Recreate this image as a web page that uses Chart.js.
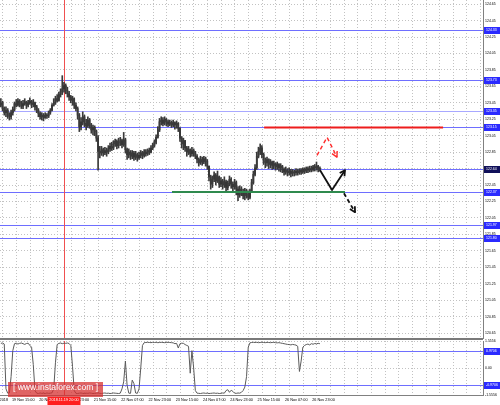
<!DOCTYPE html>
<html><head><meta charset="utf-8">
<script src="https://cdn.jsdelivr.net/npm/chart.js@4.4.1/dist/chart.umd.min.js"></script>
<style>
html,body{margin:0;padding:0;background:#fff;overflow:hidden;}
#wrap{position:relative;width:500px;height:405px;overflow:hidden;background:#fff;}
#c1{position:absolute;left:0;top:0;}
#c2{position:absolute;left:0;top:334px;}
#wm{position:absolute;left:8px;top:382px;width:95px;height:15px;line-height:15px;background:rgba(214,48,48,0.75);color:#fff;font:8.5px "Liberation Sans",Arial,sans-serif;text-align:center;white-space:nowrap;}
</style></head><body>
<div id="wrap">
<canvas id="c1" width="500" height="340"></canvas>
<canvas id="c2" width="500" height="71"></canvas>
<div id="wm">[ www.instaforex.com ]</div>
</div>
<script>
// ---------- DATA ----------
const priceTicks = [124.65,124.45,124.25,124.05,123.85,123.65,123.45,123.25,123.05,122.85,122.65,122.45,122.25,122.05,121.85,121.65,121.45,121.25,121.05,120.85,120.65];
const levelPrices = [124.33,123.73,123.35,123.15,122.64,122.37,121.97,121.80];
const oscTicks = [1.5556, 0, -1.5556];
const oscLevels = [0.9706, -0.9706];
const timeLabels = ["19 Nov 2018","19 Nov 15:00","20 Nov 07:00","20 Nov 23:00","21 Nov 15:00","22 Nov 07:00","22 Nov 23:00","23 Nov 15:00","24 Nov 07:00","24 Nov 23:00","25 Nov 15:00","26 Nov 07:00","26 Nov 23:00"];
const cursorLabel = "2018.11.19 20:00";
const cursorBar = 37;

const firstOpen = 123.42;
const closes = [
123.45,123.38,123.33,123.36,123.30,123.28,123.33,123.37,123.44,123.42,
123.47,123.45,123.41,123.44,123.46,123.42,123.45,123.47,123.43,123.45,
123.40,123.36,123.32,123.28,123.30,123.27,123.30,123.29,123.33,123.36,
123.42,123.45,123.50,123.48,123.55,123.59,123.62,123.66,123.60,123.56,
123.52,123.48,123.50,123.42,123.38,123.30,123.16,123.22,123.28,123.20,
123.17,123.24,123.18,123.12,123.15,123.10,123.02,122.86,122.84,122.88,
122.84,122.87,122.85,122.89,122.92,122.90,122.95,122.98,122.93,122.97,
122.99,122.94,123.00,122.88,122.82,122.85,122.80,122.84,122.79,122.82,
122.78,122.81,122.84,122.81,122.85,122.83,122.87,122.85,122.90,122.93,
122.97,123.03,123.12,123.22,123.24,123.20,123.25,123.22,123.19,123.21,
123.18,123.21,123.18,123.20,123.14,123.02,122.95,122.99,122.90,122.85,
122.88,122.83,122.87,122.84,122.80,122.76,122.72,122.76,122.73,122.77,
122.74,122.68,122.55,122.46,122.52,122.57,122.50,122.55,122.46,122.50,
122.45,122.49,122.42,122.47,122.52,122.46,122.43,122.48,122.40,122.33,
122.40,122.36,122.32,122.38,122.34,122.30,122.38,122.48,122.58,122.66,
122.80,122.86,122.90,122.82,122.74,122.72,122.76,122.70,122.73,122.69,
122.71,122.67,122.70,122.66,122.68,122.64,122.61,122.63,122.60,122.62,
122.59,122.61,122.60,122.62,122.60,122.63,122.61,122.64,122.62,122.65,
122.63,122.65,122.64,122.67,122.66,122.68,122.64,122.65];
const highs = [
123.50,123.47,123.40,123.40,123.38,123.33,123.36,123.40,123.46,123.49,
123.50,123.49,123.47,123.48,123.50,123.47,123.48,123.51,123.48,123.49,
123.46,123.42,123.38,123.34,123.33,123.32,123.33,123.32,123.35,123.38,
123.44,123.50,123.53,123.55,123.58,123.62,123.78,123.70,123.68,123.64,
123.59,123.54,123.53,123.51,123.45,123.40,123.32,123.27,123.34,123.30,
123.25,123.28,123.26,123.20,123.18,123.17,123.12,123.05,122.92,122.92,
122.90,122.91,122.90,122.93,122.96,122.97,122.99,123.01,123.00,123.02,
123.03,123.01,123.09,123.02,122.90,122.89,122.87,122.87,122.86,122.86,
122.84,122.85,122.87,122.86,122.88,122.88,122.89,122.90,122.93,122.96,
123.00,123.06,123.16,123.26,123.28,123.27,123.28,123.26,123.24,123.24,
123.23,123.24,123.22,123.23,123.21,123.15,123.04,123.02,122.99,122.92,
122.92,122.89,122.91,122.89,122.86,122.82,122.78,122.80,122.79,122.80,
122.79,122.76,122.68,122.57,122.56,122.61,122.59,122.62,122.56,122.54,
122.52,122.55,122.51,122.50,122.56,122.54,122.49,122.52,122.50,122.43,
122.44,122.43,122.40,122.41,122.40,122.38,122.40,122.52,122.62,122.70,
122.85,122.91,122.95,122.93,122.84,122.78,122.79,122.77,122.76,122.74,
122.74,122.72,122.73,122.71,122.71,122.69,122.66,122.67,122.65,122.66,
122.64,122.64,122.63,122.65,122.64,122.65,122.65,122.66,122.66,122.67,
122.67,122.68,122.68,122.69,122.70,122.73,122.69,122.67];
const lows = [
123.40,123.35,123.30,123.28,123.26,123.24,123.25,123.30,123.35,123.40,
123.41,123.40,123.38,123.38,123.42,123.38,123.40,123.43,123.39,123.40,
123.36,123.33,123.28,123.25,123.24,123.23,123.26,123.26,123.27,123.31,
123.35,123.41,123.43,123.46,123.47,123.52,123.55,123.58,123.56,123.52,
123.48,123.45,123.42,123.38,123.35,123.25,123.10,123.12,123.18,123.16,
123.12,123.15,123.14,123.08,123.06,123.05,122.98,122.63,122.78,122.81,
122.80,122.82,122.80,122.83,122.86,122.87,122.88,122.92,122.89,122.90,
122.93,122.90,122.92,122.84,122.76,122.78,122.76,122.77,122.75,122.76,
122.74,122.76,122.78,122.77,122.79,122.80,122.81,122.82,122.84,122.88,
122.91,122.95,123.02,123.10,123.18,123.17,123.18,123.17,123.16,123.17,
123.15,123.16,123.13,123.14,123.10,122.98,122.90,122.88,122.86,122.80,
122.82,122.79,122.80,122.80,122.77,122.72,122.68,122.70,122.69,122.71,
122.68,122.64,122.50,122.40,122.42,122.49,122.45,122.48,122.42,122.43,
122.40,122.42,122.38,122.39,122.44,122.41,122.38,122.40,122.33,122.26,
122.30,122.32,122.28,122.27,122.29,122.27,122.28,122.37,122.46,122.56,
122.64,122.78,122.82,122.78,122.70,122.66,122.68,122.65,122.66,122.64,
122.65,122.63,122.64,122.62,122.61,122.60,122.57,122.58,122.56,122.57,
122.55,122.56,122.56,122.57,122.57,122.58,122.58,122.59,122.59,122.60,
122.60,122.61,122.61,122.62,122.62,122.63,122.61,122.62];
const osc = [
1.42,1.44,1.38,-1.2,-1.45,-1.44,-0.5,1.0,1.40,1.43,1.38,1.42,1.44,1.40,1.36,1.41,1.43,1.30,1.20,0.2,-1.3,
-1.45,-1.47,-1.44,-1.46,-1.45,-1.47,-1.44,-1.46,-1.45,-1.43,-1.2,
0.3,1.35,1.42,1.44,1.40,1.43,1.42,1.44,1.41,1.30,0.1,-1.3,
-1.46,-1.47,-1.45,-1.44,-1.46,-1.47,-1.45,-1.46,-1.44,-1.45,-1.47,-1.46,-1.45,-1.44,-1.46,-1.47,-1.45,-1.44,-1.46,-1.45,-1.47,-1.46,-1.44,-1.45,-1.46,-1.47,-1.45,-1.2,
-0.8,0.4,-1.0,-1.45,-1.46,-0.7,-0.9,-1.44,-1.46,-1.2,0.0,1.3,
1.46,1.47,1.48,1.47,1.46,1.48,1.47,1.48,1.46,1.47,1.48,1.47,1.46,1.47,1.48,1.47,1.46,1.45,1.40,1.42,
1.15,1.40,1.43,1.42,1.35,1.30,1.25,-0.3,1.0,0.0,-1.3,
-1.45,-1.46,-1.47,-1.45,-1.44,-1.46,-1.45,-1.47,-1.46,-1.45,-1.44,-1.46,-1.45,-1.47,-1.46,-1.44,-1.45,-1.30,-1.25,-1.40,-1.28,-1.35,-1.45,-1.46,-1.44,-1.45,-1.40,-1.30,-1.10,
-0.5,1.2,
1.45,1.47,1.48,1.47,1.48,1.46,1.47,1.48,1.47,1.46,1.48,1.47,1.46,1.47,1.48,1.46,1.45,1.46,1.44,1.42,1.40,1.38,1.36,
1.35,1.33,1.36,1.34,1.32,1.25,
-0.2,0.4,1.2,
1.30,1.35,1.38,1.33,1.40,1.37,1.41,1.39,1.42,1.40];

// annotations in data space: [bar index, price]
const arrowRed = [[185.3,122.81],[191.2,123.03],[197.0,122.79]];
const arrowBlack = [[187.1,122.63],[194.1,122.39],[201.7,122.63]];
const arrowBlackDash = [[201.1,122.35],[207.6,122.12]];
const resistance = {from:154.3, to:259.2, price:123.15};
const support = {from:100.3, to:201.7, price:122.37};

// ---------- LAYOUT / STYLE ----------
const xMin = -0.5, xMax = 282.6;
const gridBars = []; for (let v = 1.2; v < xMax; v += 8) gridBars.push(v);
const labelBars = []; for (let k = 1; k < timeLabels.length; k++) labelBars.push(6.5 + 16*(k-1));
const gridColor = '#c2c2c2';
const FONT = 'Liberation Sans';
const levelLineColors = ['#6e6eff','#6e6eff','#a8a8ff','#6e6eff','#6e6eff','#6e6eff','#6e6eff','#6e6eff'];
const levelBoxColors = ['#2a2aff','#2a2aff','#2a2aff','#2a2aff','#10105a','#2a2aff','#2a2aff','#2a2aff'];

const opens = closes.map((c,i)=> i===0 ? firstOpen : closes[i-1]);
const wickData = closes.map((c,i)=>({x:i, y:[lows[i], highs[i]]}));
const bodyData = closes.map((c,i)=>({x:i, y:[opens[i], c]}));

function drawPoly(ctx, pts, color, width, dash, head){
  ctx.save();
  ctx.strokeStyle = color; ctx.lineWidth = width; ctx.setLineDash(dash);
  ctx.lineJoin='round';
  ctx.beginPath();
  pts.forEach((p,i)=> i ? ctx.lineTo(p[0],p[1]) : ctx.moveTo(p[0],p[1]));
  ctx.stroke();
  if (head){
    const [x1,y1] = pts[pts.length-2], [x2,y2] = pts[pts.length-1];
    const a = Math.atan2(y2-y1, x2-x1), L = 6;
    ctx.setLineDash([]);
    ctx.beginPath();
    ctx.moveTo(x2 - L*Math.cos(a-0.5), y2 - L*Math.sin(a-0.5));
    ctx.lineTo(x2, y2);
    ctx.lineTo(x2 - L*Math.cos(a+0.5), y2 - L*Math.sin(a+0.5));
    ctx.stroke();
  }
  ctx.restore();
}
function axisBox(ctx, x0, py, text, fill){
  ctx.save();
  ctx.fillStyle = fill;
  ctx.fillRect(x0, Math.round(py)-3, 500-x0, 7);
  ctx.fillStyle = '#fff';
  ctx.font = '3.5px "' + FONT + '"';
  ctx.textBaseline = 'middle'; ctx.textAlign = 'left';
  ctx.fillText(text, x0+2, Math.round(py)+0.5);
  ctx.restore();
}

const mainDeco = {
  id:'mainDeco',
  beforeDatasetsDraw(chart){
    const {ctx, chartArea:a, scales:{x,y}} = chart;
    ctx.save();
    levelPrices.forEach((p,k)=>{
      const py = Math.round(y.getPixelForValue(p)) + 0.5;
      ctx.strokeStyle = levelLineColors[k]; ctx.lineWidth = 1;
      ctx.beginPath(); ctx.moveTo(a.left, py); ctx.lineTo(a.right, py); ctx.stroke();
    });
    const cx = Math.round(x.getPixelForValue(cursorBar)) + 0.5;
    ctx.strokeStyle = '#f05050'; ctx.lineWidth = 1;
    ctx.beginPath(); ctx.moveTo(cx, a.top); ctx.lineTo(cx, a.bottom); ctx.stroke();
    ctx.restore();
  },
  afterDatasetsDraw(chart){
    const {ctx, scales:{x,y}} = chart;
    const P = pts => pts.map(p=>[x.getPixelForValue(p[0]), y.getPixelForValue(p[1])]);
    ctx.save();
    let py = y.getPixelForValue(resistance.price);
    ctx.fillStyle = '#ee1c1c';
    ctx.fillRect(x.getPixelForValue(resistance.from), Math.round(py)-0.5, x.getPixelForValue(resistance.to)-x.getPixelForValue(resistance.from), 2);
    py = y.getPixelForValue(support.price);
    ctx.fillStyle = '#2f8a4e';
    ctx.fillRect(x.getPixelForValue(support.from), Math.round(py)-1, x.getPixelForValue(support.to)-x.getPixelForValue(support.from), 2);
    ctx.restore();
    drawPoly(ctx, P(arrowRed), '#ff2a2a', 1.4, [4,3], true);
    drawPoly(ctx, P(arrowBlack), '#111', 1.8, [], true);
    drawPoly(ctx, P(arrowBlackDash), '#111', 1.8, [4,3], true);
  },
  afterDraw(chart){
    const {ctx, chartArea:a, scales:{y}} = chart;
    levelPrices.forEach((p,k)=> axisBox(ctx, a.right+1, y.getPixelForValue(p), p.toFixed(2), levelBoxColors[k]));
    ctx.save();
    ctx.fillStyle = '#7a7a7a';
    ctx.fillRect(0, a.bottom, a.right, 2);
    ctx.restore();
  }
};

const oscDeco = {
  id:'oscDeco',
  beforeDatasetsDraw(chart){
    const {ctx, chartArea:a, scales:{x,y}} = chart;
    ctx.save();
    oscLevels.forEach(v=>{
      const py = Math.round(y.getPixelForValue(v)) + 0.5;
      ctx.strokeStyle = '#6e6eff'; ctx.lineWidth = 1;
      ctx.beginPath(); ctx.moveTo(a.left, py); ctx.lineTo(a.right, py); ctx.stroke();
    });
    const cx = Math.round(x.getPixelForValue(cursorBar)) + 0.5;
    ctx.strokeStyle = '#f05050';
    ctx.beginPath(); ctx.moveTo(cx, a.top); ctx.lineTo(cx, a.bottom); ctx.stroke();
    ctx.restore();
  },
  afterDraw(chart){
    const {ctx, chartArea:a, scales:{x,y}} = chart;
    oscLevels.forEach(v=> axisBox(ctx, a.right+1, y.getPixelForValue(v), v.toFixed(4), '#2a2aff'));
    ctx.save();
    ctx.strokeStyle = '#808080'; ctx.lineWidth = 1;
    ctx.beginPath(); ctx.moveTo(0, a.bottom+0.5); ctx.lineTo(a.right, a.bottom+0.5); ctx.stroke();
    ctx.fillStyle = '#000';
    ctx.font = '3.8px "' + FONT + '"';
    ctx.textBaseline = 'top'; ctx.textAlign = 'right';
    ctx.fillText(timeLabels[0], 8, a.bottom + 3);
    const cx = x.getPixelForValue(cursorBar);
    ctx.fillStyle = '#ff1f1f';
    ctx.fillRect(cx-16.5, a.bottom+2, 33, 8);
    ctx.fillStyle = '#fff';
    ctx.textAlign = 'center';
    ctx.fillText(cursorLabel, cx, a.bottom + 3.5);
    ctx.restore();
  }
};

const baseOpts = {
  responsive:false, animation:false, devicePixelRatio:1, events:[],
  plugins:{legend:{display:false}, tooltip:{enabled:false}}
};
function gridX(){
  return {type:'linear', min:xMin, max:xMax, offset:false,
    afterBuildTicks:s=>{ s.ticks = gridBars.map(v=>({value:v})); },
    afterFit:s=>{ s.height = 0; s.paddingLeft = 0; s.paddingRight = 0; },
    ticks:{display:false},
    grid:{color:gridColor, drawTicks:false, offset:false, lineWidth:1},
    border:{display:false, dash:[1,2]}};
}

new Chart(document.getElementById('c1'), {
  type:'bar',
  data:{datasets:[
    {data:wickData, backgroundColor:'#3a3a3a', barThickness:1, grouped:false, borderWidth:0},
    {data:bodyData, backgroundColor:'#000000', barThickness:1, grouped:false, minBarLength:1, borderWidth:0}
  ]},
  options:Object.assign({}, baseOpts, {
    layout:{padding:{top:0,left:0,right:0,bottom:2}},
    scales:{
      x:gridX(),
      y:{position:'right', min:120.59, max:124.70,
        afterBuildTicks:s=>{ s.ticks = priceTicks.map(v=>({value:v})); },
        afterFit:s=>{ s.width = 17; s.paddingTop = 0; s.paddingBottom = 0; },
        ticks:{padding:2, color:'#000', font:{family:FONT, size:3.5}, callback:v=>Number(v).toFixed(2)},
        grid:{color:gridColor, drawTicks:false, lineWidth:1},
        border:{color:'#808080', dash:[1,2]}}
    }
  }),
  plugins:[mainDeco]
});

new Chart(document.getElementById('c2'), {
  type:'line',
  data:{datasets:[{data:osc.map((v,i)=>({x:i, y:v})), borderColor:'#5a5a5a', borderWidth:1, pointRadius:0, tension:0, xAxisID:'x', yAxisID:'y'}]},
  options:Object.assign({}, baseOpts, {
    layout:{padding:{top:7,left:0,right:0,bottom:0}},
    scales:{
      x:gridX(),
      xl:{type:'linear', position:'bottom', min:xMin, max:xMax, offset:false,
        afterBuildTicks:s=>{ s.ticks = labelBars.map(v=>({value:v})); },
        afterFit:s=>{ s.height = 10; s.paddingLeft = 0; s.paddingRight = 0; },
        grid:{display:false, drawTicks:false}, border:{display:false},
        ticks:{autoSkip:false, maxRotation:0, minRotation:0, align:'start', padding:3, color:'#000',
          font:{family:FONT, size:3.8}, callback:(v,k)=>timeLabels[k+1]}},
      y:{position:'right', min:-1.5556, max:1.5556,
        afterBuildTicks:s=>{ s.ticks = oscTicks.map(v=>({value:v})); },
        afterFit:s=>{ s.width = 17; s.paddingTop = 0; s.paddingBottom = 0; },
        ticks:{padding:2, color:'#000', font:{family:FONT, size:3.5}, callback:v=> v===0 ? '0.00' : Number(v).toFixed(4)},
        grid:{color:gridColor, drawTicks:false, lineWidth:1},
        border:{color:'#808080', dash:[1,2]}}
    }
  }),
  plugins:[oscDeco]
});
</script>
</body></html>
